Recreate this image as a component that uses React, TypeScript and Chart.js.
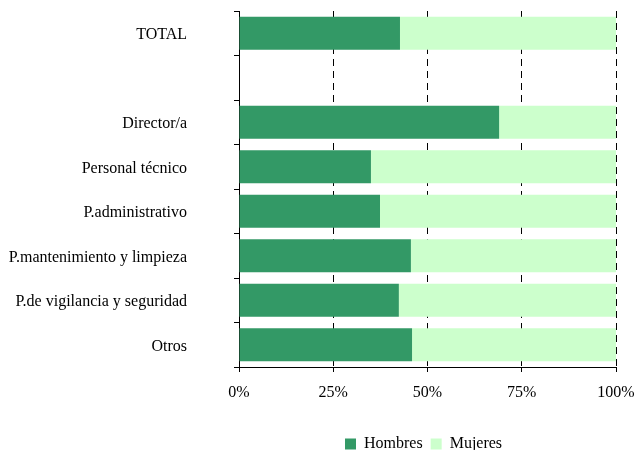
import React, { useEffect, useRef } from "react";
import { Chart, registerables } from "chart.js";

Chart.register(...registerables);

const categories = [
  "TOTAL",
  "",
  "Director/a",
  "Personal técnico",
  "P.administrativo",
  "P.mantenimiento y limpieza",
  "P.de vigilancia y seguridad",
  "Otros",
];
const hombres = [42.7, null, 69.0, 35.0, 37.4, 45.6, 42.4, 45.9];
const mujeres = [57.3, null, 31.0, 65.0, 62.6, 54.4, 57.6, 54.1];
const xTicks = [0, 25, 50, 75, 100];

const FONT = "'Liberation Serif', 'Times New Roman', serif";

const legendPlacer = {
  id: "legendPlacer",
  beforeDraw(chart: any) {
    const lg = chart.legend;
    if (!lg) return;
    const w = lg.right - lg.left;
    const h = lg.bottom - lg.top;
    lg.left = 337;
    lg.right = 337 + w;
    lg.top = 428;
    lg.bottom = 428 + h;
  },
};

export default function App() {
  const ref = useRef<HTMLCanvasElement | null>(null);
  useEffect(() => {
    if (!ref.current) return;
    const chart = new Chart(ref.current, {
      type: "bar",
      data: {
        labels: categories,
        datasets: [
          {
            label: "Hombres",
            data: hombres as any,
            backgroundColor: "#339966",
            borderWidth: 0,
            barPercentage: 0.74,
            categoryPercentage: 1,
          },
          {
            label: "Mujeres",
            data: mujeres as any,
            backgroundColor: "#CCFFCC",
            borderWidth: 0,
            barPercentage: 0.74,
            categoryPercentage: 1,
          },
        ],
      },
      options: {
        indexAxis: "y",
        animation: false,
        responsive: true,
        maintainAspectRatio: false,
        layout: { padding: { top: 11, right: 20, left: 0, bottom: 0 } },
        plugins: {
          tooltip: { enabled: false },
          legend: {
            position: "bottom",
            align: "start",
            labels: {
              boxWidth: 11,
              boxHeight: 11,
              padding: 8,
              color: "#000",
              font: { family: FONT, size: 16 },
            },
          },
        },
        scales: {
          x: {
            stacked: true,
            min: 0,
            max: 100,
            afterFit: (s: any) => {
              s.height = 49;
              s.paddingLeft = 0;
              s.paddingRight = 0;
            },
            afterBuildTicks: (s: any) => {
              s.ticks = xTicks.map((v) => ({ value: v }));
            },
            ticks: {
              color: "#000",
              font: { family: FONT, size: 16 },
              padding: 11,
              maxRotation: 0,
              callback: (v: any) => v + "%",
            },
            grid: {
              color: (ctx: any) => (ctx.tick && ctx.tick.value === 0 ? "rgba(0,0,0,0)" : "#000"),
              lineWidth: 1,
              drawTicks: true,
              tickLength: 5,
              tickColor: "#000",
              tickWidth: 1,
            },
            border: { display: true, color: "#000", width: 1, dash: [7, 5] },
          },
          y: {
            stacked: true,
            afterFit: (s: any) => {
              s.width = 239;
              s.paddingTop = 0;
              s.paddingBottom = 0;
            },
            ticks: {
              color: "#000",
              font: { family: FONT, size: 16 },
              padding: 47,
              labelOffset: 2,
            },
            grid: {
              drawOnChartArea: false,
              drawTicks: true,
              tickLength: 5,
              tickColor: "#000",
              offset: true,
            },
            border: { display: true, color: "#000", width: 1 },
          },
        },
      },
      plugins: [legendPlacer],
    });
    return () => chart.destroy();
  }, []);
  return (
    <div style={{ position: "absolute", left: 0, top: 0, width: 636, height: 450 }}>
      <canvas ref={ref} />
    </div>
  );
}
